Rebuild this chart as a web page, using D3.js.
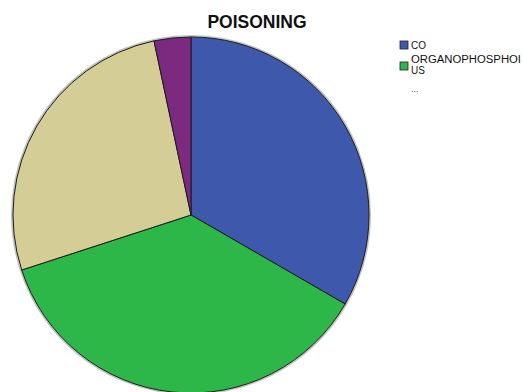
<!DOCTYPE html>
<html>
<head>
<meta charset="utf-8">
<script src="https://cdn.jsdelivr.net/npm/d3@7"></script>
<style>
  html, body { margin: 0; padding: 0; background: #fff; }
  svg { display: block; }
</style>
</head>
<body>
<svg id="chart" width="523" height="392"></svg>
<script>
// Poisoning cases by type
const categories = ["CO", "ORGANOPHOSPHORUS", "OTHER", "UNKNOWN"];
const counts = [10, 11, 8, 1];
const colors = ["#3E59AB", "#2EB749", "#D4CE96", "#7C2A80"];
const legendLines = [["CO"], ["ORGANOPHOSPHOI", "US"]];

const svg = d3.select("#chart");
const cx = 191, cy = 215, r = 178;

svg.append("text")
  .attr("x", 257).attr("y", 28)
  .attr("text-anchor", "middle")
  .attr("font-family", "Liberation Sans, Arial, sans-serif")
  .attr("font-weight", "bold")
  .attr("font-size", 17.5)
  .attr("fill", "#111")
  .text("POISONING");

const pie = d3.pie().sort(null).value(d => d)(counts);
const arc = d3.arc().innerRadius(0).outerRadius(r);

const g = svg.append("g").attr("transform", `translate(${cx},${cy})`);

// soft rim shadow
g.append("circle")
  .attr("r", r + 1)
  .attr("fill", "none")
  .attr("stroke", "#999")
  .attr("stroke-width", 2)
  .attr("opacity", 0.6);

g.selectAll("path.slice")
  .data(pie)
  .join("path")
  .attr("class", "slice")
  .attr("d", arc)
  .attr("fill", (d, i) => colors[i])
  .attr("stroke", "#1a1a1a")
  .attr("stroke-width", 1)
  .attr("stroke-linejoin", "round");

// legend
const lg = svg.append("g").attr("font-family", "Liberation Sans, Arial, sans-serif")
  .attr("font-size", 10).attr("fill", "#111")
  .attr("textLength", null);
const rowY = [45, 66];
legendLines.forEach((lines, i) => {
  lg.append("rect")
    .attr("x", 400).attr("y", rowY[i] - 4)
    .attr("width", 8).attr("height", 8)
    .attr("fill", colors[i])
    .attr("stroke", "#222").attr("stroke-width", 0.8);
  lines.forEach((ln, j) => {
    const t = lg.append("text")
      .attr("x", 411)
      .attr("y", lines.length > 1 ? rowY[i] - 3 + j * 11 : rowY[i] + 4)
      .text(ln);
    if (ln.length > 10) t.attr("textLength", 110).attr("lengthAdjust", "spacingAndGlyphs");
  });
});
lg.append("text").attr("x", 411).attr("y", 92).attr("fill", "#555").attr("font-size", 9).text("...");
</script>
</body>
</html>
